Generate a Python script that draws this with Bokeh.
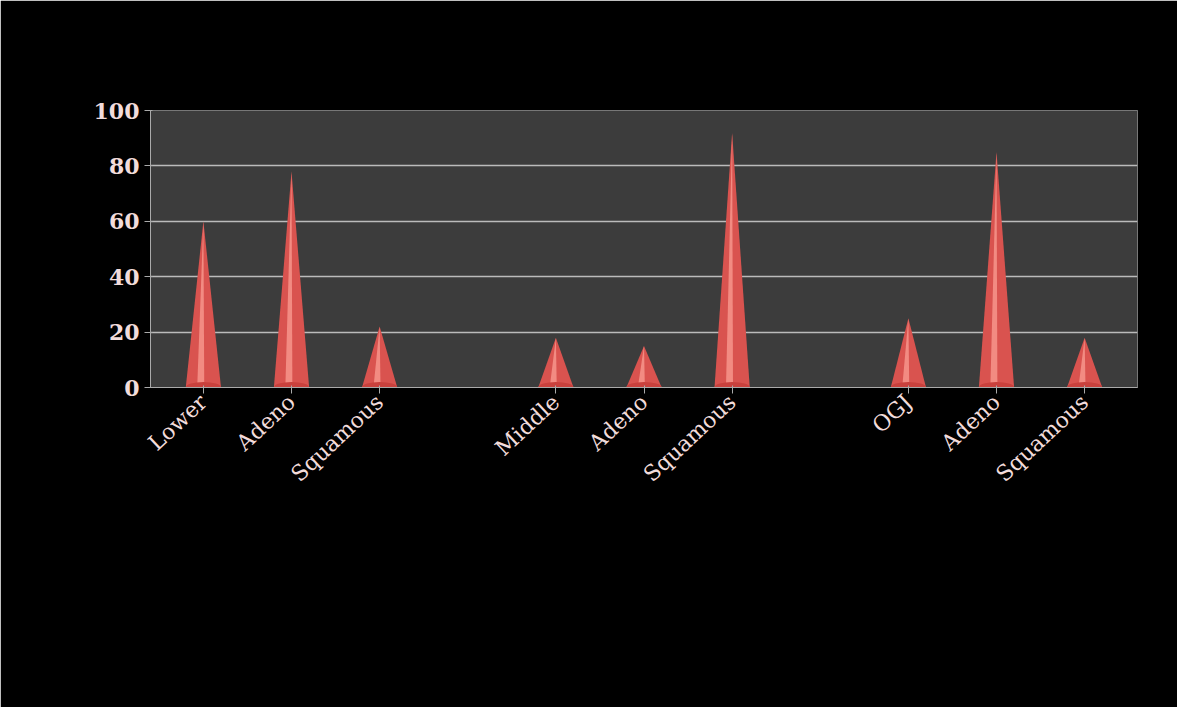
from bokeh.plotting import figure
from bokeh.models import FixedTicker
from bokeh.embed import file_html
from bokeh.resources import INLINE

labels = ["Lower", "Adeno", "Squamous", "Middle", "Adeno", "Squamous", "OGJ", "Adeno", "Squamous"]
positions = [0, 1, 2, 4, 5, 6, 8, 9, 10]
values = [60, 78, 22, 18, 15, 92, 25, 85, 18]

p = figure(width=1177, height=707, x_range=(-0.6, 10.6), y_range=(0, 100),
           output_backend="svg", toolbar_location=None,
           min_border_left=150, min_border_right=40, min_border_top=110, min_border_bottom=320)
p.background_fill_color = "#3c3c3c"
p.border_fill_color = "black"
p.outline_line_color = "#777777"

hw = 0.2
for x, v in zip(positions, values):
    # cone body with a lighter highlight strip
    p.patch([x - hw, x, x + hw], [0, v, 0], fill_color="#d9534f", line_color=None)
    p.patch([x - hw * 0.35, x, x + hw * 0.05], [0, v, 0], fill_color="#f28b82", line_color=None)
    p.ellipse(x=x, y=0, width=hw * 2, height=4, fill_color="#c9413d", line_color=None)

p.xaxis.ticker = FixedTicker(ticks=positions)
p.xaxis.major_label_overrides = {x: l for x, l in zip(positions, labels)}
p.xaxis.major_label_orientation = 0.75
p.yaxis.ticker = FixedTicker(ticks=[0, 20, 40, 60, 80, 100])
for ax in (p.xaxis, p.yaxis):
    ax.major_label_text_font = "DejaVu Serif"
    ax.major_label_text_color = "#f2dcdb"
    ax.major_label_text_font_size = "22px"
    ax.axis_line_color = "#aaaaaa"
    ax.major_tick_line_color = "#aaaaaa"
    ax.minor_tick_line_color = None
p.yaxis.major_label_text_font_style = "bold"
p.xgrid.grid_line_color = None
p.ygrid.grid_line_color = "#bbbbbb"
p.ygrid.grid_line_width = 1.5

open("out.html", "w").write(file_html(p, INLINE))
